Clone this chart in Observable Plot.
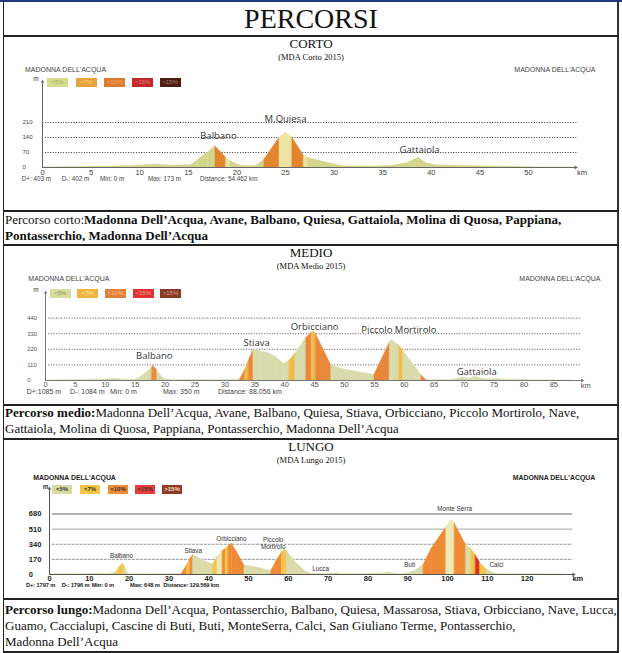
<!DOCTYPE html>
<html><head><meta charset="utf-8">
<script src="https://cdn.jsdelivr.net/npm/d3@7"></script>
<script src="https://cdn.jsdelivr.net/npm/@observablehq/plot@0.6"></script>
<style>
html,body{margin:0;padding:0;background:#fff;}
#page{position:relative;width:622px;height:653px;overflow:hidden;background:#fff;}
.t{position:absolute;white-space:nowrap;line-height:0;}
.serif{font-family:"Liberation Serif","Times New Roman",serif;color:#111;}
.sans{font-family:"Liberation Sans",Arial,sans-serif;}
.ln{position:absolute;background:#222;}
.box{position:absolute;}
</style></head><body><div id="page"></div>
<script>
// ---------------- DATA ----------------
const legendLabels = ["<5%", "<7%", "<10%", "<15%", ">15%"];
const fillClasses = ["base", "strip", "gold", "orange", "red"];

// CORTO
const cortoKm = [0, 2, 5, 8, 10, 11.8, 13, 14.5, 15.3, 16, 17, 17.8, 18.9, 19.3, 20.4, 21.5, 22, 22.8, 24.4, 25, 25.7, 26.9, 27.3, 28.6, 30, 31, 34, 36, 37.5, 38.7, 39.5, 40.5, 43, 46, 49, 51, 54.5];
const cortoM  = [0, 1, 3, 6, 9, 14, 9, 10, 12, 35, 70, 98, 45, 30, 8, 6, 8, 35, 140, 162, 140, 55, 45, 30, 15, 6, 5, 8, 20, 45, 20, 10, 8, 5, 3, 0, 0];
const cortoBandFrom = [17.8, 18.9, 22.8, 24.4, 25.7, 26.9];
const cortoBandTo   = [18.9, 19.3, 24.4, 25.7, 26.9, 27.3];
const cortoBandCls  = ["orange", "strip", "orange", "strip", "orange", "strip"];
const cortoTicksX = [0, 5, 10, 15, 20, 25, 30, 35, 40, 45, 50];
const cortoTicksY = [0, 70, 140, 210];
const cortoLabelNames = ["Balbano", "M.Quiesa", "Gattaiola"];
const cortoLabelKm = [18.1, 25.0, 38.8];
const cortoLabelM = [149, 227, 84];
const cortoStats = ["D+: 403 m", "D-: 402 m", "Min: 0 m", "Max: 173 m", "Distance: 54.462 km"];
const cortoRoute = [["Percorso corto:", "Madonna Dell’Acqua, Avane, Balbano, Quiesa, Gattaiola, Molina di Quosa, Pappiana,"], ["", "Pontasserchio, Madonna Dell’Acqua"]];

// MEDIO
const medioKm = [0, 3, 6, 9, 11.7, 13, 15, 15.9, 17, 17.8, 18.1, 18.7, 19.8, 21, 25, 30, 32, 32.6, 33.4, 34, 34.8, 36, 37.1, 38.5, 39.9, 40.8, 41.8, 43.6, 44.5, 44.8, 45.2, 47.8, 50, 52, 55, 57.6, 57.9, 59.1, 59.8, 62.9, 63.7, 65, 68, 69.8, 70.8, 71.8, 73, 74.5, 75.7, 77, 80, 81.5, 88];
const medioM  = [0, 1, 3, 5, 12, 6, 5, 23, 60, 90, 101, 70, 8, 4, 3, 2, 3, 12, 77, 140, 219, 205, 195, 165, 118, 140, 190, 300, 335, 346, 330, 106, 78, 62, 40, 270, 287, 247, 212, 35, 2, 2, 4, 22, 10, 26, 12, 8, 12, 6, 3, 0, 0];
const medioBandFrom = [17.8, 32.6, 33.4, 34, 40.8, 43.6, 44.5, 45.2, 55, 59.1, 62.9];
const medioBandTo   = [18.7, 33.4, 34, 34.8, 41.8, 44.5, 45.2, 47.8, 57.6, 59.8, 63.7];
const medioBandCls  = ["orange", "orange", "gold", "orange", "gold", "orange", "gold", "orange", "orange", "gold", "orange"];
const medioTicksX = [0, 5, 10, 15, 20, 25, 30, 35, 40, 45, 50, 55, 60, 65, 70, 75, 80, 85];
const medioTicksY = [0, 110, 220, 330, 440];
const medioLabelNames = ["Balbano", "Stiava", "Orbicciano", "Piccolo Mortirolo", "Gattaiola"];
const medioLabelKm = [18.2, 35.3, 45.0, 59.1, 72.1];
const medioLabelM = [176, 270, 383, 360, 63];
const medioStats = ["D+:1085 m", "D-: 1084 m", "Min: 0 m", "Max: 350 m", "Distance: 88.056 km"];
const medioRoute = [["Percorso medio:", "Madonna Dell’Acqua, Avane, Balbano, Quiesa, Stiava, Orbicciano, Piccolo Mortirolo, Nave,"], ["", "Gattaiola, Molina di Quosa, Pappiana, Pontasserchio, Madonna Dell’Acqua"]];

// LUNGO
const lungoKm = [0, 5, 10, 13, 15, 16.9, 17.5, 18.4, 18.9, 19.8, 20, 25, 30, 33.2, 34.6, 35.3, 36.1, 38.6, 41.1, 42.2, 43.5, 44.3, 45, 45.8, 47, 49, 52, 55.7, 57, 58.4, 59.2, 59.7, 62, 64.4, 66, 70, 72.2, 73, 78, 82, 85.5, 87, 89.7, 92, 94, 96, 99.7, 100.9, 101.8, 104.7, 105.9, 107.1, 108.2, 109.8, 111, 112.5, 115, 129.6];
const lungoM  = [0, 2, 5, 8, 4, 30, 80, 120, 90, 5, 3, 2, 3, 5, 110, 170, 222, 157, 112, 200, 265, 290, 320, 345, 260, 100, 80, 40, 150, 250, 274, 260, 130, 30, 5, 3, 15, 5, 5, 8, 20, 6, 8, 45, 110, 290, 530, 618, 575, 330, 290, 215, 130, 60, 28, 6, 2, 0];
const lungoBandFrom = [16.9, 33.2, 34.6, 35.3, 41.1, 42.2, 43.5, 44.3, 45, 55.7, 58.4, 94, 99.7, 101.8, 105.9, 107.1, 108.2];
const lungoBandTo   = [18.9, 34.6, 35.3, 36.1, 42.2, 43.5, 44.3, 45, 49, 58.4, 59.7, 99.7, 101.8, 104.7, 107.1, 108.2, 109.8];
const lungoBandCls  = ["gold", "orange", "gold", "orange", "gold", "strip", "orange", "gold", "orange", "orange", "gold", "orange", "strip", "orange", "gold", "red", "gold"];
const lungoTicksX = [0, 10, 20, 30, 40, 50, 60, 70, 80, 90, 100, 110, 120];
const lungoTicksY = [0, 170, 340, 510, 680];
const lungoLabelNames = ["Balbano", "Stiava", "Orbicciano", "Piccolo\nMortirolo", "Lucca", "Buti", "Monte Serra", "Calci"];
const lungoLabelKm = [18.1, 36.1, 45.7, 56.2, 68.1, 90.5, 101.8, 112.3];
const lungoLabelM = [206, 270, 408, 354, 71, 112, 742, 112];
const lungoStats = ["D+: 1797 m", "D-: 1796 m", "Min: 0 m", "Max: 648 m", "Distance: 129.569 km"];
const lungoRoute = [["Percorso lungo:", "Madonna Dell’Acqua, Pontasserchio, Balbano, Quiesa, Massarosa, Stiava, Orbicciano, Nave, Lucca,"], ["", "Guamo, Caccialupi, Cascine di Buti, Buti, MonteSerra, Calci, San Giuliano Terme, Pontasserchio,"], ["", "Madonna Dell’Acqua"]];

// ---------------- LAYOUT HELPERS ----------------
const page = document.getElementById("page");
function txt(html, x, base, size, o = {}) {
  const d = document.createElement("div");
  d.className = "t " + (o.serif ? "serif" : "sans");
  d.innerHTML = html;
  d.style.fontSize = size + "px";
  const k = o.serif ? 0.3375 : 0.3465;
  d.style.top = (base - k * size) + "px";
  d.style.left = x + "px";
  if (o.anchor === "middle") d.style.transform = "translateX(-50%)";
  if (o.anchor === "end") d.style.transform = "translateX(-100%)";
  if (o.weight) d.style.fontWeight = o.weight;
  d.style.color = o.color || "#111";
  if (o.ls != null) d.style.letterSpacing = o.ls + "px";
  page.appendChild(d);
  return d;
}
function line(x, y, w, h, c) {
  const d = document.createElement("div");
  d.className = "ln";
  Object.assign(d.style, {left: x + "px", top: y + "px", width: w + "px", height: h + "px"});
  if (c) d.style.background = c;
  page.appendChild(d);
}
function esc(s) { return s.replace(/&/g, "&amp;").replace(/</g, "&lt;").replace(/>/g, "&gt;"); }

function profile(c) {
  const segs = [];
  for (let i = 0; i < c.km.length - 1; i++) {
    const mid = (c.km[i] + c.km[i + 1]) / 2;
    let cls = "base";
    for (let j = 0; j < c.bandFrom.length; j++) if (mid > c.bandFrom[j] && mid < c.bandTo[j]) cls = c.bandCls[j];
    segs.push({seg: i, km: c.km[i], m: c.m[i], cls}, {seg: i, km: c.km[i + 1], m: c.m[i + 1], cls});
  }
  const W = 618;
  const xRight = c.xLeft + c.xmax * c.pxKm;
  const yTop = (c.yBase - c.yTopPx) / c.pxM;
  const marks = [];
  for (const g of c.grids) {
    marks.push(Plot.ruleY(g.vals, {y: d => d, x1: () => c.gridX1, x2: () => c.gridX2, stroke: g.stroke, strokeWidth: g.w, strokeDasharray: g.dash}));
  }
  marks.push(Plot.areaY(segs, {x: "km", y1: () => 0, y2: "m", z: "seg", fill: "cls", stroke: "cls", strokeWidth: 0.35}));
  marks.push(Plot.arrow([{x1: 0, x2: c.xmax, y1: 0, y2: 0}], {x1: "x1", x2: "x2", y1: "y1", y2: "y2", stroke: c.axisColor, strokeWidth: 1, headLength: 4, headAngle: 60}));
  marks.push(Plot.arrow([{x1: 0, x2: 0, y1: 0, y2: yTop}], {x1: "x1", x2: "x2", y1: "y1", y2: "y2", stroke: c.axisColor, strokeWidth: 1, headLength: 3, headAngle: 60}));
  marks.push(Plot.axisX({ticks: c.ticksX, tickSize: 0, tickPadding: c.tickPad, tickFormat: d => String(d), label: null, fontSize: c.tickFont + "px", fontWeight: c.bold ? "bold" : "normal", fill: c.tickColor, fontFamily: "Liberation Sans, Arial, sans-serif"}));
  marks.push(Plot.axisY({ticks: c.ticksY, tickSize: 0, tickPadding: 0, textAnchor: "start", dx: c.yLabelX - c.xLeft, tickFormat: d => String(d), label: null, fontSize: c.yFont + "px", fontWeight: c.bold ? "bold" : "normal", fill: c.tickColor, fontFamily: "Liberation Sans, Arial, sans-serif"}));
  marks.push(Plot.text(["km"], {x: () => c.xmax, y: () => 0, dx: c.kmDx, dy: c.kmDy, fontSize: c.tickFont + "px", fontWeight: c.bold ? "bold" : "normal", fill: c.tickColor, fontFamily: "Liberation Sans, Arial, sans-serif"}));
  marks.push(Plot.text(c.labelNames, {x: (d, i) => c.labelKm[i], y: (d, i) => c.labelM[i], text: d => d, fontSize: c.labelFont + "px", fontFamily: c.labelFamily, fill: "#333", lineHeight: 1.15}));
  const svg = Plot.plot({
    width: W, height: c.height,
    marginLeft: c.xLeft, marginRight: W - xRight,
    marginTop: c.yTopPx - c.top, marginBottom: c.top + c.height - c.yBase,
    x: {domain: [0, c.xmax]}, y: {domain: [0, yTop]},
    color: {type: "ordinal", domain: fillClasses, range: c.fills},
    style: {background: "transparent", overflow: "visible", fontFamily: "Liberation Sans, Arial, sans-serif"},
    marks
  });
  svg.style.position = "absolute";
  svg.style.left = "0px";
  svg.style.top = c.top + "px";
  page.appendChild(svg);
}

function legend(xs, y, w, h, fills, tcols, mx, mBase, bold) {
  txt("m", mx, mBase, 6.5, {color: "#333", weight: bold ? "bold" : "normal"});
  legendLabels.forEach((l, i) => {
    const b = document.createElement("div");
    b.className = "box sans";
    Object.assign(b.style, {left: xs[i] + "px", top: y + "px", width: w + "px", height: h + "px", background: fills[i], color: tcols[i], fontSize: "6px", lineHeight: h + "px", textAlign: "center", fontWeight: bold ? "bold" : "normal"});
    b.textContent = l;
    page.appendChild(b);
  });
}
function stats(arr, xs, base, size, color, bold, ls) {
  arr.forEach((s, i) => txt(esc(s), xs[i], base, size, {color, weight: bold ? "bold" : "normal", ls}));
}
function route(lines, base0, lh, leadBold) {
  lines.forEach((l, i) => {
    const lead = l[0] ? (leadBold ? "<b>" + l[0] + "</b>" : l[0]) : "";
    const rest = leadBold ? l[1] : "<b>" + l[1] + "</b>";
    txt(lead + rest, 5, base0 + i * lh, 13, {serif: true});
  });
}

// ---------------- CHARTS ----------------
profile({
  km: cortoKm, m: cortoM, bandFrom: cortoBandFrom, bandTo: cortoBandTo, bandCls: cortoBandCls,
  fills: ["#d3d68c", "#eee2a2", "#f0bb48", "#e2852c", "#c8301e"],
  xmax: 55, xLeft: 42, pxKm: 9.72, yBase: 167, pxM: 15 / 70, top: 62, height: 125, yTopPx: 80,
  grids: [{vals: [70, 140, 210], stroke: "#333", w: 1, dash: "1,1.6"}], gridX1: 0.3, gridX2: 55,
  ticksX: cortoTicksX, ticksY: cortoTicksY, tickFont: 7.5, yFont: 6, tickPad: 2, tickColor: "#444",
  yLabelX: 22, kmDx: 5, kmDy: 5, axisColor: "#666",
  labelNames: cortoLabelNames, labelKm: cortoLabelKm, labelM: cortoLabelM, labelFont: 9.5, labelFamily: "Open Sans, sans-serif"
});
profile({
  km: medioKm, m: medioM, bandFrom: medioBandFrom, bandTo: medioBandTo, bandCls: medioBandCls,
  fills: ["#d8dbab", "#efe9bb", "#f0bb48", "#e8883a", "#d8321e"],
  xmax: 90, xLeft: 45, pxKm: 5.98, yBase: 380, pxM: 15.6 / 110, top: 275, height: 125, yTopPx: 291,
  grids: [{vals: [110, 220, 330, 440], stroke: "#555", w: 1, dash: "1,1.6"}], gridX1: 0.55, gridX2: 89.5,
  ticksX: medioTicksX, ticksY: medioTicksY, tickFont: 7.5, yFont: 6, tickPad: 1, tickColor: "#555",
  yLabelX: 26.7, kmDx: 2, kmDy: 5, axisColor: "#777",
  labelNames: medioLabelNames, labelKm: medioLabelKm, labelM: medioLabelM, labelFont: 9.5, labelFamily: "Open Sans, sans-serif"
});
profile({
  km: lungoKm, m: lungoM, bandFrom: lungoBandFrom, bandTo: lungoBandTo, bandCls: lungoBandCls,
  fills: ["#dadba8", "#ede8b4", "#f2c44a", "#ee8a34", "#d8321e"],
  xmax: 132, xLeft: 49, pxKm: 3.98, yBase: 574, pxM: 0.089, top: 472, height: 124, yTopPx: 487,
  grids: [{vals: [680], stroke: "#666", w: 1, dash: null}, {vals: [510], stroke: "#9a9a9a", w: 0.9, dash: null}, {vals: [170, 340], stroke: "#8a8a8a", w: 0.9, dash: "3,1"}],
  gridX1: 0.7, gridX2: 131.5,
  ticksX: lungoTicksX, ticksY: lungoTicksY, tickFont: 7.5, yFont: 7.5, tickPad: 1, tickColor: "#222", bold: true,
  yLabelX: 28.3, kmDx: 3, kmDy: 4, axisColor: "#555",
  labelNames: lungoLabelNames, labelKm: lungoLabelKm, labelM: lungoLabelM, labelFont: 6.3, labelFamily: "Liberation Sans, Arial, sans-serif"
});

// ---------------- TABLE FRAME & TEXT ----------------
line(0, 0, 622, 2, "#1f3a85");
line(3, 0, 1, 652, "#222");
line(617, 0, 2, 652, "#333");
[35, 210, 244, 404, 438, 598].forEach(y => line(3, y, 616, 1.5, "#222"));
line(3, 651, 616, 1.5, "#222");

txt("PERCORSI", 311, 28, 28, {serif: true, anchor: "middle"});
txt("CORTO", 311, 48, 13, {serif: true, anchor: "middle"});
txt("(MDA Corto 2015)", 311, 59.5, 8.5, {serif: true, anchor: "middle"});
txt("MEDIO", 311, 257, 13, {serif: true, anchor: "middle"});
txt("(MDA Medio 2015)", 311, 268.5, 8.5, {serif: true, anchor: "middle"});
txt("LUNGO", 311, 451, 13, {serif: true, anchor: "middle"});
txt("(MDA Lungo 2015)", 311, 462.5, 8.5, {serif: true, anchor: "middle"});

// start/finish labels
txt("MADONNA DELL'ACQUA", 25, 72, 7, {color: "#444"});
txt("MADONNA DELL'ACQUA", 514.3, 72, 7, {color: "#444"});
txt("MADONNA DELL'ACQUA", 28.3, 281.7, 7, {color: "#444"});
txt("MADONNA DELL'ACQUA", 519.3, 281.7, 7, {color: "#444"});
txt("MADONNA DELL'ACQUA", 33.3, 480.7, 6.9, {color: "#222", weight: "bold"});
txt("MADONNA DELL'ACQUA", 512.7, 480.7, 6.9, {color: "#222", weight: "bold"});

legend([47, 75.5, 104, 132, 159.5], 77.5, 21, 9, ["#d7db8f", "#e8a23c", "#df7b31", "#c0282a", "#4b1d15"], ["#a3a85a", "#f7d08f", "#f6a877", "#ec7d7d", "#a8786a"], 33.3, 81, false);
legend([50, 77.3, 105, 133, 160.3], 289.3, 20.5, 9, ["#d8dc9e", "#eeb640", "#e2813a", "#e03333", "#8a3b27"], ["#8d9350", "#fff1b8", "#f9c49a", "#f7a3a3", "#d7a894"], 33.3, 292, false);
legend([52, 80, 108, 135, 162], 485, 20, 9.3, ["#d8dba0", "#f2c545", "#ef8a35", "#e83c3c", "#8f3b28"], ["#333", "#333", "#333", "#333", "#f3e0d0"], 42.7, 489.5, true);

stats(cortoStats, [21.7, 61.7, 100, 148, 200], 181.5, 6.3, "#444", false, 0);
stats(medioStats, [26.7, 70, 110, 163, 218], 394.3, 7, "#444", false, 0);
stats(lungoStats, [26, 61.7, 91.7, 130, 163.3], 586.7, 5.8, "#222", true, -0.15);

route(cortoRoute, 224, 16, false);
route(medioRoute, 417, 16, true);
route(lungoRoute, 614, 16, true);
</script></body></html>
